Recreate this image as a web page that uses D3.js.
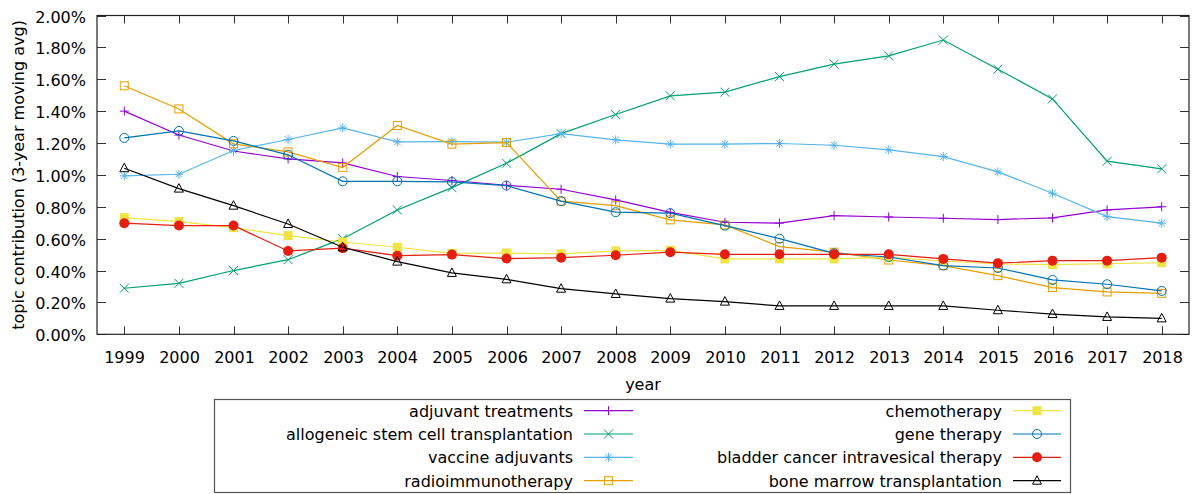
<!DOCTYPE html>
<html><head><meta charset="utf-8">
<script src="https://cdn.jsdelivr.net/npm/d3@7"></script>
<style>body{margin:0;background:#fff}svg{display:block}text{font-family:"DejaVu Sans",Verdana,sans-serif;font-size:16px;fill:#000}</style>
</head><body><svg id="c" width="1193" height="494"></svg>
<script>
const years = d3.range(1999, 2019);
const yTicks = [0,0.2,0.4,0.6,0.8,1.0,1.2,1.4,1.6,1.8,2.0];
const seriesNames = ["adjuvant treatments","allogeneic stem cell transplantation","vaccine adjuvants","radioimmunotherapy","chemotherapy","gene therapy","bladder cancer intravesical therapy","bone marrow transplantation"];
const adjuvant = [1.40,1.25,1.15,1.10,1.075,0.99,0.965,0.935,0.91,0.843,0.765,0.703,0.698,0.745,0.736,0.728,0.72,0.73,0.78,0.80];
const allogeneic = [0.289,0.32,0.40,0.468,0.60,0.78,0.92,1.073,1.259,1.379,1.496,1.519,1.617,1.695,1.747,1.846,1.663,1.477,1.086,1.038];
const vaccine = [0.994,1.004,1.153,1.222,1.295,1.207,1.209,1.205,1.259,1.22,1.193,1.193,1.197,1.186,1.157,1.115,1.019,0.885,0.738,0.697];
const radio = [1.559,1.414,1.195,1.144,1.046,1.31,1.193,1.203,0.835,0.807,0.718,0.686,0.55,0.515,0.466,0.431,0.368,0.293,0.266,0.257];
const chemo = [0.732,0.707,0.669,0.619,0.579,0.546,0.508,0.51,0.504,0.523,0.527,0.473,0.473,0.473,0.483,0.46,0.441,0.437,0.443,0.449];
const gene = [1.232,1.276,1.213,1.126,0.96,0.96,0.956,0.933,0.835,0.766,0.76,0.682,0.60,0.508,0.485,0.431,0.416,0.341,0.314,0.272];
const bladder = [0.697,0.682,0.682,0.523,0.54,0.493,0.50,0.475,0.481,0.496,0.515,0.502,0.502,0.502,0.502,0.473,0.446,0.462,0.462,0.481];
const bone = [1.042,0.914,0.807,0.692,0.546,0.456,0.385,0.345,0.286,0.253,0.224,0.205,0.178,0.178,0.178,0.178,0.151,0.127,0.109,0.10];
const colors = ["#9400d3","#009e73","#56b4e9","#e69f00","#f0e442","#0072b2","#e51e10","#000000"];
const markers = ["plus","cross","star","square","fsquare","circle","fcircle","triangle"];
const allData = [adjuvant,allogeneic,vaccine,radio,chemo,gene,bladder,bone];

const svg = d3.select("#c");
const L=97, R=1189, T=15.5, B=334.3;
const x = d3.scaleLinear().domain([1998.5,2018.5]).range([L,R]);
const y = d3.scaleLinear().domain([0,2]).range([B,T]);

// ticks
const g = svg.append("g");
yTicks.forEach(v=>{
  const yy = Math.round(y(v))+0.5;
  g.append("line").attr("x1",L).attr("x2",L+9).attr("y1",yy).attr("y2",yy).attr("stroke","#333");
  g.append("line").attr("x1",R-9).attr("x2",R).attr("y1",yy).attr("y2",yy).attr("stroke","#333");
  g.append("text").attr("x",86).attr("y",yy+6).attr("text-anchor","end").text(d3.format(".2f")(v)+"%");
});
years.forEach(yr=>{
  const xx = Math.round(x(yr))+0.5;
  g.append("line").attr("x1",xx).attr("x2",xx).attr("y1",B).attr("y2",B-8).attr("stroke","#333");
  g.append("line").attr("x1",xx).attr("x2",xx).attr("y1",T).attr("y2",T+8).attr("stroke","#333");
  g.append("text").attr("x",xx).attr("y",363).attr("text-anchor","middle").text(yr);
});
g.append("rect").attr("x",L).attr("y",T).attr("width",R-L).attr("height",B-T).attr("fill","none").attr("stroke","#222").attr("stroke-width",1.2);
g.append("text").attr("x",(L+R)/2).attr("y",390).attr("text-anchor","middle").text("year");
g.append("text").attr("transform",`translate(24,${(T+B)/2}) rotate(-90)`).attr("text-anchor","middle").text("topic contribution (3-year moving avg)");

function drawMarker(sel, type, cx, cy, col){
  const s=4.5;
  if(type==="plus"||type==="star"){
    sel.append("path").attr("d",`M${cx-s},${cy}H${cx+s}M${cx},${cy-s}V${cy+s}`).attr("stroke",col).attr("fill","none");
  }
  if(type==="cross"||type==="star"){
    const c = type==="star"?3.3:s;
    sel.append("path").attr("d",`M${cx-c},${cy-c}L${cx+c},${cy+c}M${cx-c},${cy+c}L${cx+c},${cy-c}`).attr("stroke",col).attr("fill","none");
  }
  if(type==="square") sel.append("rect").attr("x",cx-4).attr("y",cy-4).attr("width",8).attr("height",8).attr("fill","none").attr("stroke",col);
  if(type==="fsquare") sel.append("rect").attr("x",cx-4.5).attr("y",cy-4.5).attr("width",9).attr("height",9).attr("fill",col);
  if(type==="circle") sel.append("circle").attr("cx",cx).attr("cy",cy).attr("r",4.5).attr("fill","none").attr("stroke",col);
  if(type==="fcircle") sel.append("circle").attr("cx",cx).attr("cy",cy).attr("r",5).attr("fill",col);
  if(type==="triangle") sel.append("path").attr("d",`M${cx},${cy-5}L${cx+4.5},${cy+3.5}L${cx-4.5},${cy+3.5}Z`).attr("fill","none").attr("stroke",col);
}

const line = d3.line().x((d,i)=>x(years[i])).y(d=>y(d));
allData.forEach((arr,k)=>{
  const sg = svg.append("g");
  sg.append("path").attr("d",line(arr)).attr("fill","none").attr("stroke",colors[k]).attr("stroke-width",1.2);
  arr.forEach((v,i)=>drawMarker(sg,markers[k],x(years[i]),y(v),colors[k]));
});

// legend
svg.append("rect").attr("x",214.5).attr("y",399.5).attr("width",856).attr("height",93).attr("fill","#fff").attr("stroke","#555").attr("stroke-width",1.2);
const rowY=[410.7,434,457.3,480.7];
seriesNames.forEach((n,k)=>{
  const col = k<4?0:1, row=k%4;
  const tx = col===0?573:1002, lx1 = col===0?584:1013, lx2 = col===0?633:1061;
  const yy = rowY[row];
  svg.append("text").attr("x",tx).attr("y",yy+6).attr("text-anchor","end").text(n);
  svg.append("line").attr("x1",lx1).attr("x2",lx2).attr("y1",yy).attr("y2",yy).attr("stroke",colors[k]).attr("stroke-width",1.2);
  drawMarker(svg,markers[k],(lx1+lx2)/2,yy,colors[k]);
});
</script></body></html>
